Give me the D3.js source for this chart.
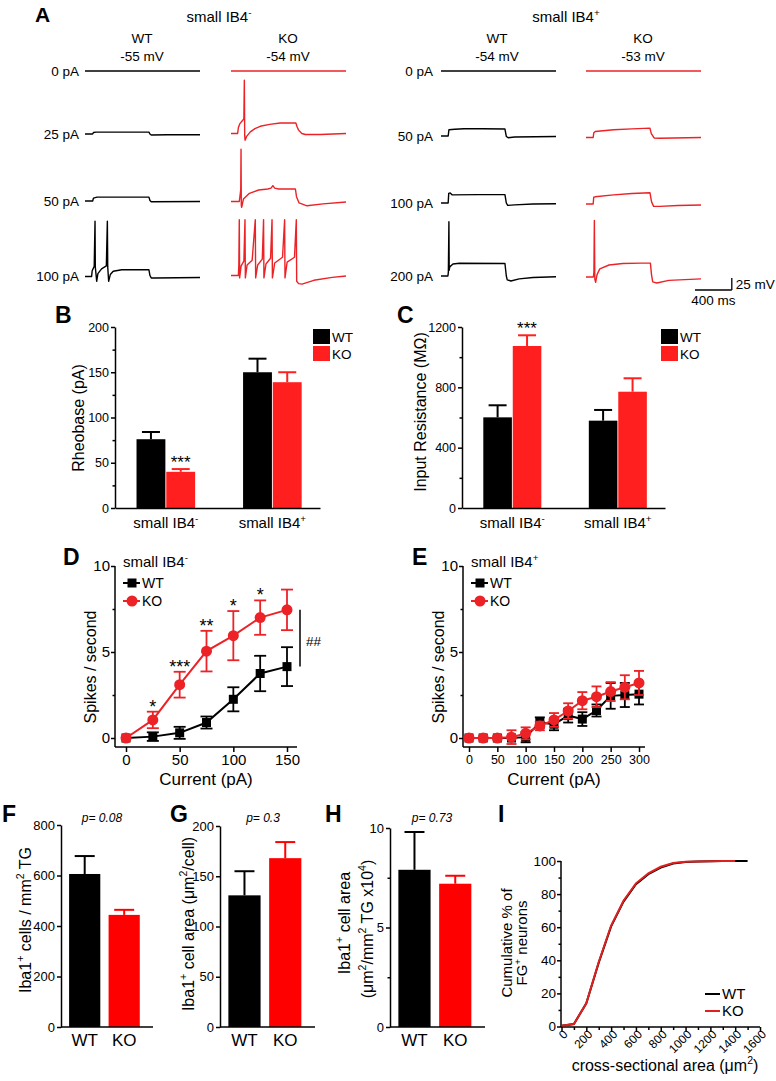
<!DOCTYPE html>
<html><head><meta charset="utf-8">
<script src="https://cdn.jsdelivr.net/npm/d3@7"></script>
<style>body{margin:0;background:#fff}svg{display:block}text{font-family:"Liberation Sans",Arial,Helvetica,sans-serif}</style>
</head><body><svg id="c" width="776" height="1081"></svg>
<script>
// ================= DATA =================
const cellTypes = ["small IB4-", "small IB4+"];
const genotypes = ["WT", "KO"];
const stepsNeg = ["0 pA", "25 pA", "50 pA", "100 pA"];
const stepsPos = ["0 pA", "50 pA", "100 pA", "200 pA"];
const restNeg = ["-55 mV", "-54 mV"];
const restPos = ["-54 mV", "-53 mV"];

// voltage traces: [time ms, mV relative to rest]
const negWT_0 = [[0,0],[1250,0]];
const negWT_25 = [[0,0],[83,0],[92,3],[120,4],[695,4],[706,0],[720,-2],[900,-1.5],[1250,-1.5]];
const negWT_50 = [[0,0],[83,0],[92,6],[130,8],[695,8],[706,1],[720,-1.5],[1250,-1]];
const negWT_100 = [[0,0],[72,0],[78,12],[100,21],[109,115],[112,20],[127,-10],[140,6],[180,16],[232,22],[243,115],[247,20],[257,-10],[275,4],[307,11],[400,14],[695,14],[706,2],[720,-3],[760,-3],[1250,-2]];
const negKO_0 = [[0,0],[1250,0]];
const negKO_25 = [[0,0],[72,0],[80,12],[95,20],[125,27],[140,31],[145,111],[149,-5],[153,-14],[170,-6],[210,3.5],[260,10],[318,15],[420,19],[535,22],[705,22],[718,14],[735,7],[770,0],[808,-2],[970,-2],[1250,0]];
const negKO_50 = [[0,0],[90,0],[100,15],[106,25],[109,109],[112,-8],[116,-12],[135,5],[200,17],[300,24],[400,26],[435,28],[455,33],[475,28],[520,26],[700,26],[712,10],[740,-3],[826,-9],[1000,-5],[1250,-1]];
const negKO_100 = [[0,0],[80,0],[85,20],[90,116],[94,-5],[110,20],[140,30],[152,116],[156,-5],[175,22],[230,32],[264,116],[268,-5],[290,22],[340,34],[354,116],[358,-5],[380,24],[430,36],[446,116],[450,-5],[475,26],[560,38],[583,116],[587,-5],[610,28],[690,38],[710,116],[714,-12],[735,-17],[772,-18],[900,-10],[1100,-4],[1250,-1]];
const posWT_0 = [[0,0],[1250,0]];
const posWT_50 = [[0,0],[78,0],[86,13],[150,14],[250,15],[450,15],[695,14.5],[710,-1],[730,-3.5],[800,-2],[1250,-1]];
const posWT_100 = [[0,0],[78,0],[84,20],[100,21],[120,17],[400,17.5],[695,17.5],[710,0],[725,-5],[800,-4],[1000,-2],[1250,-1.5]];
const posWT_200 = [[0,0],[75,0],[80,8],[86,113],[89,12],[95,19],[130,25],[200,26.5],[695,26],[710,0],[720,-8],[760,-10.4],[850,-6],[1000,-3],[1250,-1.5]];
const posKO_0 = [[0,0],[1250,0]];
const posKO_50 = [[0,0],[78,0],[85,10],[100,12.5],[300,16],[500,18],[695,19.5],[710,8],[740,-1],[800,-1.5],[1250,0]];
const posKO_100 = [[0,0],[78,0],[84,14],[100,15],[300,19],[500,22],[695,23.5],[712,5],[735,-5],[800,-5],[1000,-3],[1250,-2]];
const posKO_200 = [[0,0],[80,0],[86,10],[91,118],[96,-5],[105,-11],[120,5],[150,17],[250,25],[400,28],[600,29],[700,29],[712,5],[725,-10],[770,-12.5],[900,-7],[1250,-4]];

// B: rheobase (pA)
const rheoWT = [76, 150], rheoWTErr = [8, 15];
const rheoKO = [40, 139], rheoKOErr = [3, 11];
const rheoStars = ["***", ""];
// C: input resistance (MOhm)
const resWT = [601, 579], resWTErr = [80, 71];
const resKO = [1074, 771], resKOErr = [71, 89];
const resStars = ["***", ""];
// D: small IB4-
const currentD = [0, 25, 50, 75, 100, 125, 150];
const spikesWT_D = [0, 0.08, 0.3, 0.9, 2.25, 3.75, 4.15];
const errWT_D = [0.05, 0.25, 0.35, 0.35, 0.7, 1.03, 1.13];
const spikesKO_D = [0, 1.05, 3.1, 5.05, 5.95, 7.0, 7.45];
const errKO_D = [0.05, 0.48, 0.75, 1.18, 1.43, 1.0, 1.18];
const starsD = ["", "*", "***", "**", "*", "*", ""];
// E: small IB4+
const currentE = [0, 25, 50, 75, 100, 125, 150, 175, 200, 225, 250, 275, 300];
const spikesWT_E = [0, 0, 0, 0, 0.05, 0.9, 0.8, 1.3, 1.1, 1.6, 2.45, 2.5, 2.55];
const errWT_E = [0, 0, 0, 0.05, 0.3, 0.3, 0.35, 0.4, 0.4, 0.35, 0.75, 0.7, 0.6];
const spikesKO_E = [0, 0, 0, 0.05, 0.27, 0.7, 1.05, 1.57, 2.17, 2.4, 2.7, 2.95, 3.2];
const errKO_E = [0, 0, 0, 0.4, 0.35, 0.25, 0.4, 0.45, 0.5, 0.6, 0.55, 0.7, 0.7];
// F-H
const ibaCells = [606, 444], ibaCellsErr = [71, 20];
const ibaArea = [131, 168], ibaAreaErr = [24, 16];
const ibaCover = [7.9, 7.2], ibaCoverErr = [1.9, 0.4];
const pValues = ["p= 0.08", "p= 0.3", "p= 0.73"];
// I: cumulative distribution
const areaWT = [0,100,200,300,400,500,600,700,800,900,1000,1100,1200,1300,1400,1500];
const cumWT = [0.5,1.5,14,38.5,60.5,75.5,86,92,96,98.5,99.4,99.7,99.9,100,100,100];
const areaKO = [0,100,200,300,400,500,600,700,800,900,1000,1100,1200,1300,1400];
const cumKO = [0.5,1.5,14,39,61,76,86.5,92.5,96.5,98.8,99.5,99.7,99.9,100,100];
const areaTicks = [0, 200, 400, 600, 800, 1000, 1200, 1400, 1600];

// ================= HELPERS =================
const FONT = '"Liberation Sans", Arial, Helvetica, sans-serif';
const RED = "#ec2227", RED_BAR = "#ff1f1f", RED_PURE = "#ff0000";
const svg = d3.select("#c");
const plain = d3.format("d");

function T(x, y, parts, fs, o = {}) {
  const t = svg.append("text").attr("x", x).attr("y", y).attr("font-size", fs)
    .attr("text-anchor", o.anchor || "start").attr("fill", o.fill || "#000");
  if (o.bold) t.attr("font-weight", "bold");
  if (o.italic) t.attr("font-style", "italic");
  if (o.rot) t.attr("transform", `rotate(${o.rot},${x},${y})`);
  let shift = 0;
  (Array.isArray(parts) ? parts : [parts]).forEach(p => {
    if (p.startsWith("^")) {
      t.append("tspan").text(p.slice(1)).attr("font-size", fs * 0.66).attr("dy", -fs * 0.42);
      shift = fs * 0.42;
    } else {
      const s = t.append("tspan").text(p);
      if (shift) { s.attr("dy", shift); shift = 0; }
    }
  });
  return t;
}
function YL(cx, cy, parts, fs) { return T(cx + 0.35 * fs, cy, parts, fs, {anchor: "middle", rot: -90}); }
function supParts(s) { return [s.slice(0, -1), "^" + s.slice(-1)]; }
function styleAxis(g, fs) {
  g.attr("font-size", fs).attr("font-family", FONT);
  g.selectAll("path, line").attr("stroke", "#000").attr("stroke-width", 1.5);
  g.selectAll("text").attr("fill", "#000");
}
function addAxis(transform, axis, fs) {
  const g = svg.append("g").attr("transform", transform).call(axis);
  styleAxis(g, fs);
  return g;
}
function minor(transform, axis) {
  const g = svg.append("g").attr("transform", transform).call(axis.tickFormat("").tickSizeOuter(0));
  g.select(".domain").remove();
  g.selectAll("line").attr("stroke", "#000").attr("stroke-width", 1.5);
}
function hline(x1, x2, y, color, w) {
  svg.append("line").attr("x1", x1).attr("x2", x2).attr("y1", y).attr("y2", y).attr("stroke", color).attr("stroke-width", w);
}
function vline(x, y1, y2, color, w) {
  svg.append("line").attr("x1", x).attr("x2", x).attr("y1", y1).attr("y2", y2).attr("stroke", color).attr("stroke-width", w);
}
function letter(x, y, s) { T(x, y, s, 23, {bold: true}); }

// ================= PANEL A =================
T(35, 22, "A", 21, {bold: true});
const xA = d3.scaleLinear().domain([0, 1250]).range([0, 115]);
const yA = d3.scaleLinear().domain([0, 25]).range([0, -12]);
const lineA = d3.line().x(d => xA(d[0])).y(d => yA(d[1]));
const colsA = [
  {x: 85, color: "#000", traces: [negWT_0, negWT_25, negWT_50, negWT_100], base: [71, 134, 201, 276.5]},
  {x: 231, color: RED, traces: [negKO_0, negKO_25, negKO_50, negKO_100], base: [71, 133.5, 201.5, 275.5]},
  {x: 441, color: "#000", traces: [posWT_0, posWT_50, posWT_100, posWT_200], base: [71, 136, 203, 276]},
  {x: 586, color: RED, traces: [posKO_0, posKO_50, posKO_100, posKO_200], base: [71, 137.5, 204, 277]}
];
colsA.forEach(c => c.traces.forEach((tr, i) => {
  svg.append("path").attr("transform", `translate(${c.x},${c.base[i]})`).attr("d", lineA(tr))
    .attr("fill", "none").attr("stroke", c.color).attr("stroke-width", 1.4).attr("stroke-linejoin", "round");
}));
stepsNeg.forEach((s, i) => T(79, colsA[0].base[i] + 4.5, s, 13.5, {anchor: "end"}));
stepsPos.forEach((s, i) => T(433, colsA[2].base[i] + 4.5, s, 13.5, {anchor: "end"}));
T(219, 22, supParts(cellTypes[0]), 15, {anchor: "middle"});
T(566, 22, supParts(cellTypes[1]), 15, {anchor: "middle"});
[142, 288].forEach((cx, i) => { T(cx, 43, genotypes[i], 13.5, {anchor: "middle"}); T(cx, 61, restNeg[i], 13.5, {anchor: "middle"}); });
[497, 643].forEach((cx, i) => { T(cx, 43, genotypes[i], 13.5, {anchor: "middle"}); T(cx, 61, restPos[i], 13.5, {anchor: "middle"}); });
// scale bar
{
  const sx = 695, sy = 290, w = xA(400) - xA(0), h = yA(25);
  hline(sx, sx + w, sy, "#000", 1.3);
  vline(sx + w, sy, sy + h, "#000", 1.3);
  T(sx + w + 4, sy - 1, "25 mV", 13.5);
  T(sx + w / 2, 305, "400 ms", 13.5, {anchor: "middle"});
}

// ================= PANELS B, C =================
function groupedBars(p) {
  const xg = d3.scaleBand().domain(cellTypes).range([p.left, p.right]).paddingInner(0.45).paddingOuter(0.187).align(0.54);
  const xs = d3.scaleBand().domain(genotypes).range([0, xg.bandwidth()]).paddingInner(0.03);
  const vals = [p.wt, p.ko], errs = [p.wtErr, p.koErr], cols = ["#000", RED_BAR];
  cellTypes.forEach((ct, i) => genotypes.forEach((gt, j) => {
    const bx = xg(ct) + xs(gt), bw = xs.bandwidth(), v = vals[j][i], e = errs[j][i], cx = bx + bw / 2;
    vline(cx, p.y(v), p.y(v + e), cols[j], 2);
    hline(cx - 9, cx + 9, p.y(v + e), cols[j], 2);
    svg.append("rect").attr("x", bx).attr("y", p.y(v)).attr("width", bw).attr("height", p.y(0) - p.y(v)).attr("fill", cols[j]);
    if (j === 1 && p.stars[i]) T(cx, p.y(v + e) - 1, p.stars[i], 17, {anchor: "middle"});
  }));
  addAxis(`translate(${p.left},0)`, d3.axisLeft(p.y).tickValues(p.major).tickFormat(plain).tickSize(4).tickSizeOuter(0).tickPadding(2), 12.5);
  minor(`translate(${p.left},0)`, d3.axisLeft(p.y).tickValues(p.minor).tickSize(2.5));
  addAxis(`translate(0,${p.y(0)})`, d3.axisBottom(xg).tickSize(0).tickFormat(""), 12);
  cellTypes.forEach(ct => T(xg(ct) + xg.bandwidth() / 2, 528, supParts(ct), 15, {anchor: "middle"}));
  genotypes.forEach((g, j) => {
    svg.append("rect").attr("x", p.legX).attr("y", 329 + j * 17).attr("width", 17).attr("height", 15).attr("fill", cols[j]);
    T(p.legX + 19, 342 + j * 17, g, 13.5);
  });
}
letter(55, 323, "B");
const yB = d3.scaleLinear().domain([0, 200]).range([508, 327]);
groupedBars({left: 115, right: 320, y: yB, major: [0, 50, 100, 150, 200], minor: [25, 75, 125, 175],
  wt: rheoWT, wtErr: rheoWTErr, ko: rheoKO, koErr: rheoKOErr, stars: rheoStars, legX: 313});
YL(78, 418, "Rheobase (pA)", 16);

letter(397, 323, "C");
const yC = d3.scaleLinear().domain([0, 1200]).range([508, 327]);
groupedBars({left: 462, right: 665, y: yC, major: [0, 400, 800, 1200], minor: [200, 600, 1000],
  wt: resWT, wtErr: resWTErr, ko: resKO, koErr: resKOErr, stars: resStars, legX: 661});
YL(420, 412, "Input Resistance (MΩ)", 16);

// ================= PANELS D, E =================
function linePanel(p) {
  const axX = p.x.range()[0] - p.padL, axY = p.y.range()[0] + 9;
  vline(axX, p.y.range()[1], axY, "#000", 1.5);
  hline(axX, p.x.range()[1] + p.padR, axY, "#000", 1.5);
  const ya = addAxis(`translate(${axX},0)`, d3.axisLeft(p.y).tickValues([0, 5, 10]).tickSize(4).tickSizeOuter(0).tickPadding(1), 15);
  ya.select(".domain").remove();
  minor(`translate(${axX},0)`, d3.axisLeft(p.y).tickValues([2.5, 7.5]).tickSize(2.5));
  const xa = addAxis(`translate(0,${axY})`, d3.axisBottom(p.x).tickValues(p.xTicks).tickSize(5).tickSizeOuter(0).tickPadding(p.xPad), p.xFs);
  xa.select(".domain").remove();
  const series = [
    {v: p.wt, e: p.wtErr, c: "#000", shape: "sq"},
    {v: p.ko, e: p.koErr, c: RED, shape: "ci"}
  ];
  series.forEach(s => {
    const pts = p.cur.map((c, i) => [c, s.v[i], s.e[i]]);
    svg.append("path").attr("d", d3.line().x(d => p.x(d[0])).y(d => p.y(d[1]))(pts))
      .attr("fill", "none").attr("stroke", s.c).attr("stroke-width", 2);
    pts.forEach(d => {
      if (d[2] > 0.06) {
        vline(p.x(d[0]), p.y(d[1] - d[2]), p.y(d[1] + d[2]), s.c, 1.8);
        hline(p.x(d[0]) - p.cap, p.x(d[0]) + p.cap, p.y(d[1] + d[2]), s.c, 1.8);
        hline(p.x(d[0]) - p.cap, p.x(d[0]) + p.cap, p.y(d[1] - d[2]), s.c, 1.8);
      }
      if (s.shape === "sq") svg.append("rect").attr("x", p.x(d[0]) - 4.5).attr("y", p.y(d[1]) - 4.5).attr("width", 9).attr("height", 9).attr("fill", s.c);
      else svg.append("circle").attr("cx", p.x(d[0])).attr("cy", p.y(d[1])).attr("r", 5.5).attr("fill", s.c);
    });
  });
  if (p.stars) p.stars.forEach((st, i) => {
    if (st) T(p.x(p.cur[i]), p.y(p.ko[i] + p.koErr[i]) + 1, st, 18, {anchor: "middle"});
  });
  series.forEach((s, j) => {
    const ly = 583 + j * 18, lx = axX + 8;
    hline(lx, lx + 17, ly, s.c, 2);
    if (s.shape === "sq") svg.append("rect").attr("x", lx + 4.5).attr("y", ly - 4.5).attr("width", 9).attr("height", 9).attr("fill", s.c);
    else svg.append("circle").attr("cx", lx + 9).attr("cy", ly).attr("r", 5.5).attr("fill", s.c);
    T(lx + 19, ly + 5, genotypes[j], 14);
  });
  T(axX + 8, 567, supParts(p.title), 15);
  T((axX + p.x.range()[1] + p.padR) / 2, 785, "Current (pA)", 17, {anchor: "middle"});
  YL(axX - 25, 667, "Spikes / second", 16);
}
letter(63, 565, "D");
const xD = d3.scaleLinear().domain([0, 150]).range([126, 287]);
const yD = d3.scaleLinear().domain([0, 10]).range([738, 566]);
linePanel({x: xD, y: yD, padL: 11, padR: 10, xTicks: [0, 50, 100, 150], xFs: 15, xPad: 2, cap: 6,
  cur: currentD, wt: spikesWT_D, wtErr: errWT_D, ko: spikesKO_D, koErr: errKO_D, stars: starsD, title: cellTypes[0]});
{
  const lx = xD(150) + 13;
  vline(lx, yD(spikesKO_D[6]), yD(spikesWT_D[6]), "#000", 1.5);
  T(lx + 6, 646, "##", 13.5);
}
letter(412, 565, "E");
const xE = d3.scaleLinear().domain([0, 300]).range([469, 639]);
const yE = d3.scaleLinear().domain([0, 10]).range([738, 566]);
linePanel({x: xE, y: yE, padL: 6, padR: 6, xTicks: [0, 50, 100, 150, 200, 250, 300], xFs: 12.5, xPad: 3, cap: 5,
  cur: currentE, wt: spikesWT_E, wtErr: errWT_E, ko: spikesKO_E, koErr: errKO_E, stars: null, title: cellTypes[1]});

// ================= PANELS F, G, H =================
function singleBars(p) {
  const x = d3.scaleBand().domain(genotypes).range([p.left, p.left + p.w]).paddingInner(0.21).paddingOuter(0.27).align(0.38);
  const cols = ["#000", RED_PURE];
  genotypes.forEach((g, j) => {
    const bx = x(g), bw = x.bandwidth(), cx = bx + bw / 2, v = p.v[j], e = p.e[j];
    vline(cx, p.y(v), p.y(v + e), cols[j], 2);
    hline(cx - 10, cx + 10, p.y(v + e), cols[j], 2);
    svg.append("rect").attr("x", bx).attr("y", p.y(v)).attr("width", bw).attr("height", p.y(0) - p.y(v)).attr("fill", cols[j]);
    T(cx, 1046, g, 17, {anchor: "middle"});
  });
  addAxis(`translate(${p.left},0)`, d3.axisLeft(p.y).tickValues(p.major).tickFormat(plain).tickSize(4).tickSizeOuter(0).tickPadding(2), 13);
  if (p.minor) minor(`translate(${p.left},0)`, d3.axisLeft(p.y).tickValues(p.minor).tickSize(2.5));
  hline(p.left, p.left + p.w, p.y(0), "#000", 1.5);
  T(p.pX, 822, p.pText, 12, {anchor: "middle", italic: true});
}
letter(2, 822, "F");
const yF = d3.scaleLinear().domain([0, 800]).range([1027, 825]);
singleBars({left: 61, w: 92, y: yF, major: [0, 200, 400, 600, 800], v: ibaCells, e: ibaCellsErr, pText: pValues[0], pX: 102});
YL(25, 920, ["Iba1", "^+", " cells / mm", "^2", " TG"], 16);

letter(170, 822, "G");
const yG = d3.scaleLinear().domain([0, 200]).range([1027, 826]);
singleBars({left: 220, w: 95, y: yG, major: [0, 50, 100, 150, 200], v: ibaArea, e: ibaAreaErr, pText: pValues[1], pX: 263});
YL(188, 924, ["Iba1", "^+", " cell area (μm", "^2", "/cell)"], 16);

letter(325, 822, "H");
const yH = d3.scaleLinear().domain([0, 10]).range([1027, 828]);
singleBars({left: 390, w: 95, y: yH, major: [0, 5, 10], minor: [2.5, 7.5], v: ibaCover, e: ibaCoverErr, pText: pValues[2], pX: 432});
YL(344, 923, ["Iba1", "^+", " cell area"], 16);
YL(367, 929, ["(μm", "^2", "/mm", "^2", " TG x10", "^4", ")"], 16);

// ================= PANEL I =================
letter(498, 822, "I");
const xI = d3.scaleLinear().domain([0, 1600]).range([561.5, 760]);
const yI = d3.scaleLinear().domain([0, 100]).range([1026.5, 861]);
vline(561, yI(100), 1027, "#000", 1.5);
hline(561, xI(1600), 1027, "#000", 1.5);
{
  const ya = addAxis(`translate(561,0)`, d3.axisLeft(yI).tickValues([0, 20, 40, 60, 80, 100]).tickSize(4).tickSizeOuter(0).tickPadding(1), 13.5);
  ya.select(".domain").remove();
  minor(`translate(561,0)`, d3.axisLeft(yI).tickValues([10, 30, 50, 70, 90]).tickSize(2.5));
  const xa = addAxis(`translate(0,1027)`, d3.axisBottom(xI).tickValues(areaTicks).tickSize(5).tickSizeOuter(0).tickFormat(""), 13);
  xa.select(".domain").remove();
  minor(`translate(0,1027)`, d3.axisBottom(xI).tickValues(areaTicks.slice(0, -1).map(v => v + 100)).tickSize(3));
  areaTicks.forEach(v => T(xI(v) + 7, 1035, String(v), 12, {anchor: "end", rot: -45}));
}
[[areaWT, cumWT, "#000"], [areaKO, cumKO, "#e0201f"]].forEach(([a, c, col]) => {
  svg.append("path").attr("d", d3.line().x(d => xI(d[0])).y(d => yI(d[1]))(a.map((v, i) => [v, c[i]])))
    .attr("fill", "none").attr("stroke", col).attr("stroke-width", 2);
});
genotypes.forEach((g, j) => {
  hline(705, 720, 994 + j * 17, j ? "#e0201f" : "#000", 2);
  T(722, 999 + j * 17, g, 15);
});
YL(507, 943, "Cumulative % of", 15);
YL(522, 943, ["FG", "^+", " neurons"], 15);
T(665, 1071, ["cross-sectional area (μm", "^2", ")"], 16, {anchor: "middle"});
</script></body></html>
